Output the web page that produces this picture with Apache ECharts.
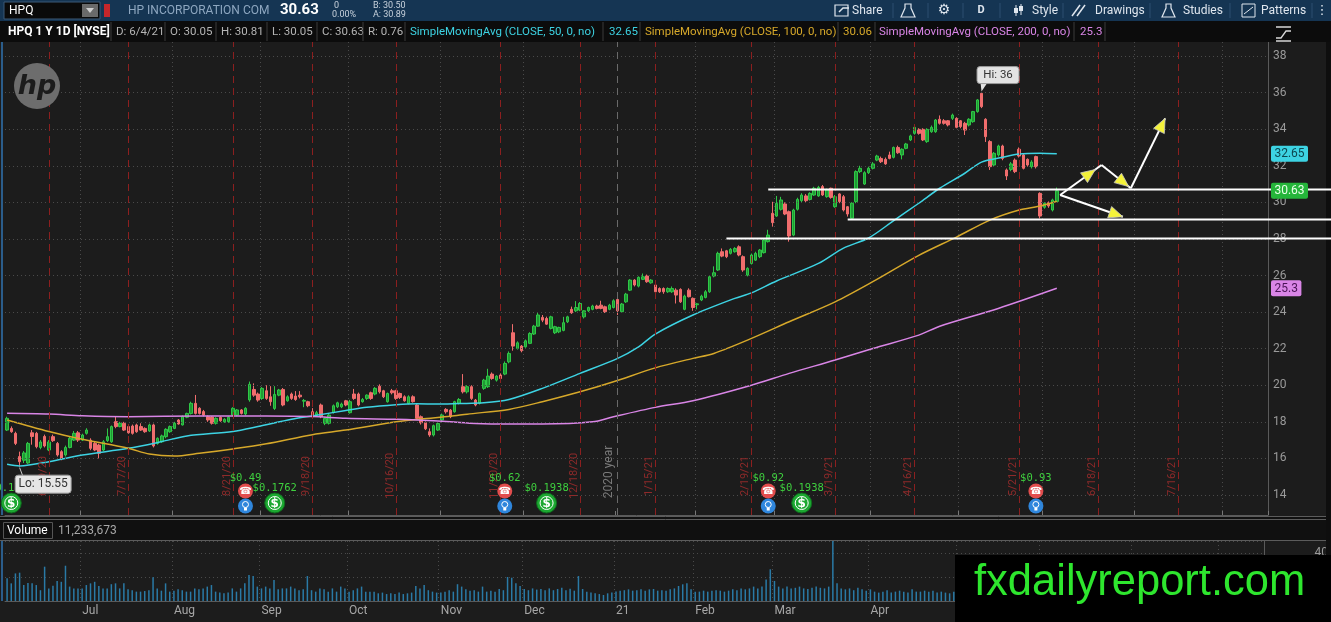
<!DOCTYPE html>
<html><head><meta charset="utf-8">
<script src="https://cdn.jsdelivr.net/npm/echarts@6/dist/echarts.min.js"></script>
<style>html,body{margin:0;padding:0;background:#1c1c1c;overflow:hidden}#chart{width:1331px;height:622px}</style>
</head><body><div id="chart"></div>
<script>
// ---------------- DATA ----------------
// daily candles [open, close, low, high], 6/5/20 .. 6/4/21
const candles = [
[17.55,18.19,17.5,18.28],[17.64,17.46,17.4,17.75],[17.37,16.82,16.73,17.46],[16.10,15.82,15.55,16.37],[15.9,16.3,15.75,16.4],
[15.75,16.82,15.7,16.9],[17.4,17.2,16.75,17.55],[17.37,16.64,16.55,17.45],[16.6,16.9,16.5,17.0],[17.2,16.68,16.6,17.3],
[16.46,16.9,16.4,17.0],[17.19,16.97,16.9,17.3],[16.82,16.19,16.1,16.9],[16.37,16.0,15.9,16.45],[16.19,16.6,16.1,16.7],
[16.6,17.1,16.55,17.2],[17.0,17.37,16.95,17.5],[17.4,17.0,16.9,17.5],[17.0,17.28,16.95,17.35],[17.37,17.55,17.3,17.65],
[17.0,16.55,16.45,17.1],[16.82,16.46,16.4,16.9],[16.73,16.28,16.0,16.8],[16.46,16.91,16.4,17.0],[16.97,17.19,16.9,17.64],
[16.91,17.74,16.85,17.8],[18.01,17.74,17.65,18.28],[17.74,17.92,17.7,18.0],[17.92,17.55,17.5,18.0],[17.74,17.4,17.35,17.8],
[17.77,17.37,17.3,17.85],[17.83,17.46,17.4,17.9],[17.74,17.55,17.5,17.92],[17.64,17.46,17.4,17.7],[17.5,17.83,17.45,17.9],
[17.83,16.68,16.6,17.9],[16.82,17.1,16.75,17.15],[16.91,17.23,16.85,17.3],[17.19,17.59,17.1,17.65],[17.46,17.74,17.4,17.8],
[17.64,17.92,17.6,18.0],[18.1,17.88,17.85,18.15],[17.83,18.28,17.8,18.35],[18.25,18.46,18.2,18.5],[18.46,19.01,18.4,19.1],
[19.01,18.46,18.4,19.47],[18.74,18.46,18.4,18.8],[18.56,18.37,18.3,18.65],[18.28,18.1,18.0,18.35],[18.26,17.92,17.85,18.3],
[17.92,18.19,17.85,18.25],[18.25,18.06,18.0,18.3],[18.0,18.14,17.95,18.2],[18.01,18.25,17.95,18.3],[18.37,18.74,18.3,18.8],
[18.37,18.65,18.3,18.7],[18.65,18.46,18.4,18.7],[18.43,18.74,18.35,18.8],
[19.2,20.05,19.1,20.2],[19.77,19.46,19.37,20.1],[19.52,19.19,19.1,19.6],[19.28,19.83,19.2,19.9],[19.7,19.28,19.2,20.0],
[19.37,19.1,18.88,19.95],[18.73,19.5,18.65,19.95],[19.46,19.74,19.4,19.8],[19.77,18.92,18.85,19.85],[19.15,19.37,19.1,19.45],
[19.52,19.28,19.2,19.6],[19.41,19.22,19.15,19.68],[19.46,19.37,19.28,19.68],[19.13,19.17,18.8,19.25],[19.1,18.88,18.8,19.15],
[18.55,18.28,18.2,18.75],[18.37,18.5,18.3,18.6],[18.92,18.28,18.2,19.0],[17.92,18.19,17.82,18.25],[17.92,18.37,17.85,18.45],
[18.51,18.88,18.45,18.95],[18.82,19.04,18.75,19.1],[18.82,18.97,18.75,19.05],[19.15,18.92,18.85,19.2],[18.5,19.1,18.45,19.2],
[19.52,19.28,19.2,19.8],[19.52,18.92,18.85,19.6],[19.1,19.22,19.05,19.3],[19.28,19.46,19.2,19.5],[19.59,19.28,19.2,19.65],
[19.52,19.83,19.45,19.9],[19.95,19.64,19.55,20.05],[19.7,19.37,19.3,19.75],[19.1,19.55,19.05,19.6],[19.7,19.59,19.5,19.8],
[19.7,19.28,19.2,19.75],[19.55,19.33,19.25,19.6],[19.37,19.15,19.1,19.45],[19.01,19.37,18.95,19.45],[19.37,19.1,19.05,19.45],
[18.92,18.19,18.1,19.0],[18.28,17.95,17.85,18.35],[17.95,17.62,17.55,18.02],
[17.46,17.28,17.18,17.64],[17.28,17.79,17.2,17.85],[17.55,17.91,17.5,17.95],[18.1,18.37,18.0,18.45],[18.68,18.55,18.45,18.75],
[18.64,18.28,18.2,18.7],[18.55,19.1,18.5,19.15],[19.01,19.22,18.95,19.3],[19.92,19.64,19.55,20.61],[19.64,19.92,19.55,20.0],
[19.92,19.28,19.2,20.0],[19.19,18.92,18.85,19.25],[19.01,19.55,18.95,19.6],[19.83,20.28,19.75,20.35],[19.92,20.5,19.85,20.9],
[20.61,20.37,20.3,20.7],[20.28,20.5,20.2,20.55],[20.56,20.37,20.3,20.65],[20.61,21.19,20.55,21.3],[21.28,21.74,21.2,21.85],
[22.87,22.14,21.89,23.34],[22.01,22.32,21.95,22.4],[22.14,21.89,21.8,22.2],[22.1,22.43,22.05,22.5],[22.29,22.83,22.25,22.9],
[22.8,23.23,22.75,23.3],[23.23,23.84,23.2,24.0],[23.71,23.56,23.45,23.84],[23.65,23.34,23.3,23.75],[23.11,23.74,23.05,23.8],
[22.87,23.2,22.8,23.25],[22.92,23.16,22.85,23.2],[23.0,23.42,22.95,23.74],[23.47,23.74,23.4,23.8],[24.15,23.96,23.9,24.3],
[24.07,24.25,24.0,24.6],[24.11,24.47,24.05,24.55],[23.74,24.07,23.65,24.1],[24.07,24.25,24.0,24.3],[24.15,24.33,24.1,24.4],
[24.33,24.2,24.15,24.4],[24.38,24.2,24.15,24.62],[24.29,24.02,23.95,24.35],[24.15,24.38,24.1,24.45],[24.25,24.62,24.2,24.7],
[24.69,24.07,23.84,24.87],[24.02,24.44,23.95,24.5],[24.56,24.98,24.5,25.05],[25.2,25.75,25.15,25.8],[25.75,25.48,25.4,25.8],
[25.42,25.9,25.35,25.95],[25.79,25.93,25.75,26.11],[25.97,25.66,25.6,26.05],[25.6,25.75,25.55,25.8],[25.48,25.11,25.05,25.55],
[25.29,25.11,25.05,25.35],[25.29,25.11,25.0,25.35],[25.11,25.29,25.05,25.35],[25.11,25.29,25.05,25.4],[25.2,24.93,24.47,25.3],
[25.24,24.56,24.5,25.3],[24.15,24.87,24.1,24.95],[25.2,24.84,24.8,25.3],[24.75,24.25,24.07,24.8],[24.4,24.45,24.15,24.5],
[24.66,24.87,24.6,24.95],[24.8,25.11,24.75,25.2],[25.11,25.93,25.05,26.0],[25.97,26.15,25.9,26.5],[26.3,27.21,26.25,27.3],
[27.3,27.06,27.0,27.48],[27.35,27.03,26.95,27.4],[27.21,27.43,27.15,27.5],[27.3,27.48,27.25,27.55],[27.57,27.12,27.05,27.65],
[27.03,26.3,26.2,27.1],[26.02,26.39,25.95,26.45],[26.66,27.12,26.6,27.2],[26.84,27.21,26.8,27.3],
[27.03,27.39,26.95,27.45],[27.25,27.94,27.2,28.0],[27.85,28.21,27.8,28.5],[29.4,28.89,28.67,30.03],[29.25,29.94,29.2,30.35],
[29.62,30.13,29.55,30.3],[29.91,29.36,29.3,30.0],[29.49,28.16,27.85,29.55],[28.21,29.58,28.15,29.65],[29.62,30.16,29.55,30.25],
[30.09,30.4,30.0,30.5],[30.35,30.09,30.0,30.45],[30.16,30.49,30.1,30.55],[30.4,30.77,30.35,30.85],[30.35,30.82,30.3,30.9],
[30.86,30.4,30.35,30.95],[30.31,30.68,30.25,30.75],[30.77,30.27,30.2,30.8],[29.76,30.31,29.7,30.4],[30.46,30.04,29.95,30.5],
[30.31,29.58,29.5,30.4],[29.76,29.36,29.22,29.8],[29.13,29.95,29.1,30.0],[30.04,31.68,29.95,31.75],[31.68,31.86,31.6,32.0],
[31.0,31.62,30.95,31.7],[31.62,31.86,31.55,31.95],[31.86,32.1,31.8,32.2],[32.31,32.53,32.25,32.6],[32.4,32.22,32.15,32.5],
[32.35,32.1,32.05,32.45],[32.59,32.4,32.35,32.77],[32.46,33.0,32.4,33.05],[33.0,32.71,32.65,33.1],[32.59,32.9,32.35,32.95],
[32.95,33.19,32.9,33.25],[33.41,33.63,33.35,33.7],[33.77,34.1,33.7,34.2],[33.99,33.77,33.7,34.05],[33.99,33.41,33.35,34.05],
[33.32,33.99,33.25,34.05],[33.86,34.1,33.8,34.2],[33.86,34.5,33.8,34.55],[34.54,34.32,34.25,34.75],[34.46,34.32,34.25,34.55],
[34.46,34.23,34.15,34.5],[34.59,34.77,34.5,34.85],[34.59,34.1,34.05,34.65],[34.46,34.14,34.05,34.5],[34.32,33.95,33.68,34.4],
[34.23,34.54,34.15,34.6],[34.41,34.96,34.35,35.0],[34.96,35.6,34.9,35.65],[35.96,35.23,35.15,36.0],[34.54,33.59,33.3,34.6],
[33.32,31.95,31.77,33.4],[32.04,32.68,31.95,32.75],[32.59,33.08,32.5,33.15],[33.08,32.4,32.3,33.15],[31.77,31.44,31.22,31.85],
[31.8,32.1,31.7,32.2],[32.31,31.68,31.6,32.4],[32.9,32.53,32.45,33.0],[32.59,31.86,31.8,32.65],[32.35,32.04,31.95,32.4],
[31.95,32.2,31.85,32.3],[32.5,31.95,31.85,32.55],[30.49,29.25,29.12,30.55],[29.73,29.95,29.65,30.0],[29.98,29.8,29.7,30.05],
[29.58,30.13,29.5,30.2],[30.05,30.63,30.05,30.81]
];
// daily volume, millions
const volumes = [
19,14.7,23,23.6,13.3,15,14.7,13.3,9,28.6,10.5,12.8,16.7,16,29.4,12,10.5,10.5,
10.5,13.3,14.7,16,12.5,10.5,10.5,14,14.7,10.5,14.7,9.7,9,7.8,7.8,8.3,9,19.7,10.5,8.6,14.7,7.8,
8.6,9.7,9,7.8,7.8,10.5,9.7,10.5,12,13.3,7.8,7,6.4,7,10.5,7.8,10.5,14.7,21.7,20.8,12,
10.5,12,10.5,17.5,9.7,10.5,10.5,12,10.5,9,9.7,20.8,9,7.8,10.5,9.7,7.8,10.5,7.8,12,10.5,
7.8,9,10.5,12,7.8,7.8,7.8,6.4,7,5.8,6.4,5.8,7,5.8,6.4,7,12.5,10.5,13.3,9,7.8,7,
7,7.8,9,7.8,14,12,9.7,8.6,9,7.8,12,7.8,8.6,7.8,10,9,20,19.4,14.7,12.5,
10,9,10.5,9.5,10,9,10.5,9,10,11,9,10.3,8.6,20.8,10,7.8,7,6.4,5.8,5,6.4,7,
8,8.6,9,9.7,8.6,9,9.7,8.6,9.7,10,8.6,9,8.6,9.7,10.5,12.5,13.9,14.7,9.7,
7.8,7.8,8.6,7.8,8.6,9,8.6,7.8,8.6,9.7,9,10.5,9.7,10.5,12,10.5,12,18,26.4,
16.7,12,10.5,12,10.5,11,12,10.5,10,11,12,11,10.5,12,50,14.7,10.5,9.7,10.5,9,11,9.7,8.6,
9.7,7.8,7,7.8,9,7,7.8,8.6,7.8,7,9.7,7.8,7.8,8.6,7.8,8.6,7,7.8,7,6.4,7.8,
9,10,11,10,12,14,16,20,17,13,12,14,11,10,9,10,9,9,12,25,
14,10,9,11.233673
];
// simple moving averages: [bar index, value]
const sma50 = [[0,15.68],[3,15.59],[10,15.82],[18,16.19],[29,16.55],[37,16.92],[43,17.23],[54,17.47],[60,17.74],[68,18.14],[74,18.36],[81,18.62],[86,18.8],[93,18.94],[98,18.99],[103,18.97],[108,19.0],[114,19.04],[120,19.22],[128,19.83],[137,20.65],[146,21.47],[151,22.1],[155,22.8],[164,23.84],[174,24.75],[178,25.05],[184,25.7],[194,26.66],[200,27.5],[206,28.05],[212,29.0],[218,29.95],[223,30.77],[229,31.59],[233,32.2],[238,32.46],[242,32.64],[247,32.68],[251,32.65]];
const sma100 = [[0,18.1],[10,17.47],[18,17.05],[29,16.55],[34,16.24],[40,16.13],[46,16.28],[54,16.52],[62,16.8],[73,17.3],[81,17.55],[93,18.0],[99,18.16],[106,18.3],[110,18.42],[120,18.68],[128,19.1],[137,19.64],[145,20.19],[155,20.95],[164,21.47],[169,21.74],[178,22.56],[187,23.47],[198,24.56],[207,25.66],[218,27.1],[227,28.1],[235,29.03],[242,29.58],[247,29.8],[251,30.06]];
const sma200 = [[0,18.47],[10,18.43],[18,18.33],[29,18.28],[46,18.32],[62,18.32],[73,18.29],[81,18.19],[93,18.14],[98,18.1],[106,18.0],[112,17.91],[120,17.88],[128,17.88],[140,18.0],[145,18.28],[155,18.79],[164,19.15],[178,20.0],[187,20.65],[198,21.38],[207,22.01],[218,22.74],[223,23.23],[237,24.2],[251,25.3]];
const priceTicks = [14,16,18,20,22,24,26,28,30,32,34,36,38];
const monthNames = ['Jan','Feb','Mar','Apr','May','Jun','Jul','Aug','Sep','Oct','Nov','Dec'];
const holidays = ['2020-07-03','2020-09-07','2020-11-26','2020-12-25','2021-01-01','2021-01-18','2021-02-15','2021-04-02','2021-05-31','2021-07-05'];
const opexDates = ['2020-06-19','2020-07-17','2020-08-21','2020-09-18','2020-10-16','2020-11-20','2020-12-18','2021-01-15','2021-02-19','2021-03-19','2021-04-16','2021-05-21','2021-06-18','2021-07-16'];
const yearDate = '2021-01-04';
const earningsIdx = [57,119,182,246];
const earningsEPS = ['$0.49','$0.62','$0.92','$0.93'];
const dividendIdx = [1,64,129,190];
const dividendAmt = ['$0.1762','$0.1762','$0.1938','$0.1938'];
const hLines = [[172,28.05],[182,30.73],[201,29.09]];       // [start bar, price]
const arrowSegs = [[[251.8,30.4],[261.7,32.04],0.85],[[261.7,32.04],[268.7,30.77],0.93],[[268.7,30.77],[276.9,34.59],1],[[251.8,30.4],[266.8,29.21],1]];
const slots = 302;

// ---------------- HELPERS ----------------
const hol = new Set(holidays);
const dates = [];
(function(){const d=new Date(Date.UTC(2020,5,5));while(dates.length<slots){const wd=d.getUTCDay();const iso=d.toISOString().slice(0,10);if(wd!==0&&wd!==6&&!hol.has(iso))dates.push(iso);d.setUTCDate(d.getUTCDate()+1);}})();
const yearIdx = dates.indexOf(yearDate);
const isMonthStart = i => i>0 && dates[i].slice(0,7)!==dates[i-1].slice(0,7);
const mdY = s => (+s.slice(5,7))+'/'+(+s.slice(8,10))+'/'+s.slice(2,4);
const C_UP='#2fc847', C_DN='#f06d6d', C50='#3dd3e3', C100='#d6a82a', C200='#d985e6';
const FONT='Roboto';

const chart = echarts.init(document.getElementById('chart'), null, {renderer:'canvas'});
const option = {
  backgroundColor:'#1c1c1c', animation:false, textStyle:{fontFamily:FONT},
  grid:[{left:5,right:63,top:42,height:473},{left:5,right:63,top:541,height:60}],
  xAxis:[
    {type:'category',gridIndex:0,data:dates,boundaryGap:true,
     axisLine:{show:true,lineStyle:{color:'#5a5a5a'}},
     axisTick:{show:true,inside:true,length:4,interval:i=>isMonthStart(i),lineStyle:{color:'#777'}},
     axisLabel:{show:false},
     splitLine:{show:true,interval:i=>isMonthStart(i)&&i!==yearIdx,lineStyle:{color:'#4a4a4a',type:[1,3]}}},
    {type:'category',gridIndex:1,data:dates,boundaryGap:true,
     axisLine:{show:true,lineStyle:{color:'#5a5a5a'}},axisTick:{show:false},
     axisLabel:{show:true,interval:i=>isMonthStart(i),align:'left',margin:4,color:'#a6a6a6',fontSize:12,fontFamily:FONT,
       formatter:v=>{const m=+v.slice(5,7);return m===1?v.slice(2,4):monthNames[m-1];}},
     splitLine:{show:true,interval:i=>isMonthStart(i),lineStyle:{color:'#4a4a4a',type:[1,3]}}}
  ],
  yAxis:[
    {type:'value',gridIndex:0,position:'right',min:12.9066,max:38.7654,axisLine:{show:true,lineStyle:{color:'#5a5a5a'}},axisTick:{show:false},axisLabel:{show:false},splitLine:{show:false}},
    {type:'value',gridIndex:1,position:'right',min:0,max:50,interval:20,axisLine:{show:true,lineStyle:{color:'#5a5a5a'}},axisTick:{show:false},
     axisLabel:{show:true,margin:50,color:'#9a9a9a',fontSize:12,formatter:v=>v===40?'40':''},splitLine:{show:true,lineStyle:{color:'#4a4a4a',type:[1,3]}}}
  ],
  series:[
    {type:'line',name:'grid',xAxisIndex:0,yAxisIndex:0,data:[],z:1,silent:true,
     markLine:{silent:true,symbol:['none','none'],animation:false,lineStyle:{color:'#4a4a4a',type:[1,3],width:1},
       label:{show:true,position:'end',formatter:p=>String(p.value),color:'#9a9a9a',fontSize:12,fontFamily:FONT,distance:5},
       data:priceTicks.map(v=>({yAxis:v}))}},
    {type:'line',name:'events',xAxisIndex:0,yAxisIndex:0,data:[],z:1,silent:true,
     markLine:{silent:true,symbol:['none','none'],animation:false,label:{show:false},
       data:opexDates.map(d=>({xAxis:d,lineStyle:{color:'#8c1f1f',type:[7,5],width:1}})).concat([{xAxis:yearDate,lineStyle:{color:'#6a6a6a',type:[7,5],width:1}}])}},
    {type:'candlestick',name:'HPQ',xAxisIndex:0,yAxisIndex:0,data:candles,barWidth:3,z:3,
     itemStyle:{color:'#1f9a33',color0:C_DN,borderColor:C_UP,borderColor0:C_DN,borderWidth:1}},
    {type:'line',name:'SMA50',xAxisIndex:0,yAxisIndex:0,data:sma50,showSymbol:false,smooth:0.3,z:4,lineStyle:{color:C50,width:1.5}},
    {type:'line',name:'SMA100',xAxisIndex:0,yAxisIndex:0,data:sma100,showSymbol:false,smooth:0.3,z:4,lineStyle:{color:C100,width:1.5}},
    {type:'line',name:'SMA200',xAxisIndex:0,yAxisIndex:0,data:sma200,showSymbol:false,smooth:0.3,z:4,lineStyle:{color:C200,width:1.5}},
    {type:'bar',name:'Volume',xAxisIndex:1,yAxisIndex:1,data:volumes,barWidth:1.5,itemStyle:{color:'#2a7aa6'}}
  ]
};
chart.setOption(option);

function xAt(f){const a=Math.floor(f);const p0=chart.convertToPixel({xAxisIndex:0},a);const p1=chart.convertToPixel({xAxisIndex:0},a+1);return p0+(p1-p0)*(f-a);}
function yAt(v){return chart.convertToPixel({yAxisIndex:0},v);}
function T(x,y,text,fill,size,opt){opt=opt||{};return {type:'text',x:x,y:y,rotation:opt.rot||0,z:opt.z||50,silent:true,
  style:{text:text,fill:fill,fontSize:size,fontFamily:opt.family||FONT,fontWeight:opt.weight||'normal',fontStyle:opt.style||'normal',
  textAlign:opt.align||'left',align:opt.align||'left',textVerticalAlign:'middle',verticalAlign:'middle'}};}
function R(x,y,w,h,fill,opt){opt=opt||{};return {type:'rect',z:opt.z||40,silent:true,shape:{x:x,y:y,width:w,height:h,r:opt.r||0},style:{fill:fill,stroke:opt.stroke||null,lineWidth:opt.lw||1}};}
function L(x1,y1,x2,y2,stroke,w,z,dash){return {type:'line',z:z||40,silent:true,shape:{x1:x1,y1:y1,x2:x2,y2:y2},style:{stroke:stroke,lineWidth:w||1,lineDash:dash||null}};}
function Ci(cx,cy,r,fill,z,stroke){return {type:'circle',z:z||45,silent:true,shape:{cx:cx,cy:cy,r:r},style:{fill:fill,stroke:stroke||null,lineWidth:1}};}

const els = [];
// ---- top toolbar ----
els.push(R(0,0,1331,21,'#153553',{z:60}));
els.push(R(4,2,96,17,'#0a0a0a',{z:61,stroke:'#3a5877'}));
els.push(T(9,10.5,'HPQ','#ffffff',12,{z:62}));
els.push(R(82,4,16,13,'#6a6a6a',{z:62}));
els.push({type:'polygon',z:63,silent:true,shape:{points:[[86,8],[94,8],[90,13]]},style:{fill:'#cfcfcf'}});
els.push(R(104,4,6,13,'#c4262b',{z:62}));
els.push(T(128,10.5,'HP INCORPORATION COM','#8ea7c0',12,{z:62}));
const last = candles[candles.length-1];
els.push(T(280,10.5,last[1].toFixed(2),'#ffffff',15,{z:62,weight:'bold'}));
els.push(T(334,6,'0','#c8d2dc',9,{z:62}));
els.push(T(332,15,'0.00%','#c8d2dc',9,{z:62}));
els.push(T(373,6,'B: 30.50','#c8d2dc',9,{z:62}));
els.push(T(373,15,'A: 30.89','#c8d2dc',9,{z:62}));
[893,928,963,1000,1063,1150,1230,1312].forEach(x=>els.push(L(x,3,x,18,'#2c4e70',1,62)));
els.push(R(835,5,13,11,null,{z:62,stroke:'#dfe6ee',lw:1.2}));
els.push({type:'polyline',z:63,silent:true,shape:{points:[[839,12],[843,8],[849,8]]},style:{stroke:'#dfe6ee',lineWidth:1.5,fill:null}});
els.push(T(852,10.5,'Share','#dfe6ee',12,{z:62}));
els.push({type:'polygon',z:62,silent:true,shape:{points:[[905,4],[911,4],[911,8],[915,17],[901,17],[905,8]]},style:{fill:null,stroke:'#dfe6ee',lineWidth:1.2}});
els.push(T(944,10.5,'\u2699','#dfe6ee',14,{z:62,align:'center',family:'DejaVu Sans'}));
els.push(T(981,10.5,'D','#dfe6ee',11,{z:62,align:'center',weight:'bold'}));
els.push(L(1016,5,1016,16,'#dfe6ee',1,62));els.push(R(1014,8,4,5,'#dfe6ee',{z:62}));els.push(L(1021,4,1021,15,'#dfe6ee',1,62));els.push(R(1019,6,4,5,'#dfe6ee',{z:62}));
els.push(T(1032,10.5,'Style','#dfe6ee',12,{z:62}));
els.push(L(1072,16,1080,5,'#dfe6ee',1.5,62));els.push(L(1077,16,1085,5,'#dfe6ee',1.5,62));
els.push(T(1095,10.5,'Drawings','#dfe6ee',12,{z:62}));
els.push({type:'polygon',z:62,silent:true,shape:{points:[[1166,4],[1171,4],[1171,8],[1175,17],[1162,17],[1166,8]]},style:{fill:null,stroke:'#dfe6ee',lineWidth:1.2}});
els.push(T(1183,10.5,'Studies','#dfe6ee',12,{z:62}));
els.push(R(1242,4,13,13,null,{z:62,stroke:'#dfe6ee',lw:1}));els.push(L(1244,14,1253,7,'#dfe6ee',1,62));
els.push(T(1261,10.5,'Patterns','#dfe6ee',12,{z:62}));
els.push(T(1322,10.5,'\u22EE','#dfe6ee',13,{z:62,align:'center',family:'DejaVu Sans'}));
// ---- study header strip ----
els.push(R(0,21,1331,21,'#0c0c0c',{z:60}));
const lastDate = dates[candles.length-1];
const hdr = [
  [8,'HPQ 1 Y 1D [NYSE]','#ffffff','bold'],
  [116,'D: '+mdY(lastDate),'#b5b5b5'],[170,'O: '+last[0].toFixed(2),'#b5b5b5'],[221,'H: '+last[3].toFixed(2),'#b5b5b5'],
  [272,'L: '+last[2].toFixed(2),'#b5b5b5'],[322,'C: '+last[1].toFixed(2),'#b5b5b5'],[368,'R: '+(last[3]-last[2]).toFixed(2),'#b5b5b5'],
  [410,'SimpleMovingAvg (CLOSE, 50, 0, no)',C50],[609,String(sma50[sma50.length-1][1]),C50],
  [645,'SimpleMovingAvg (CLOSE, 100, 0, no)',C100],[843,String(sma100[sma100.length-1][1].toFixed(2)),C100],
  [879,'SimpleMovingAvg (CLOSE, 200, 0, no)',C200],[1080,String(sma200[sma200.length-1][1]),C200]
];
hdr.forEach(h=>els.push(T(h[0],32,h[1],h[2],h[3]?12:11.5,{z:62,weight:h[3]||'normal'})));
[111,165,216,267,317,363,405,603,640,838,875,1074,1105].forEach(x=>els.push(L(x,22,x,41,'#3a3a3a',1,62)));
els.push(L(1276,27,1291,27,'#d8d8d8',1.5,62));
els.push({type:'polyline',z:62,silent:true,shape:{points:[[1276,38],[1281,38],[1286,31],[1291,31]]},style:{stroke:'#d8d8d8',lineWidth:1.3,fill:null}});
els.push(L(1276,41,1291,41,'#d8d8d8',1.5,62));
// left edge accent
els.push(R(1,42,2,473,'#2b5d8b',{z:45}));
els.push(R(1,541,2,60,'#2b5d8b',{z:45}));
els.push(R(1326,42,5,560,'#0e0e0e',{z:44}));
// HP logo
els.push(Ci(37,86,23,'#6d6d6d',20));
els.push(T(37,87,'hp','#1c1c1c',27,{z:21,align:'center',weight:'bold',style:'italic',family:'DejaVu Sans'}));
// ---- panel separator & volume header ----
els.push(R(0,516,1331,25,'#101010',{z:42}));
els.push(L(0,516.5,1331,516.5,'#5c5c5c',1,43));
els.push(L(0,519.5,1331,519.5,'#5c5c5c',1,43));
els.push(L(0,540.5,1331,540.5,'#5c5c5c',1,43));
els.push(R(3.5,522.5,49,16,null,{z:43,stroke:'#555',lw:1}));
els.push(T(7,530.5,'Volume','#ffffff',12,{z:44}));
els.push(T(58,530.5,Math.round(volumes[volumes.length-1]*1e6).toLocaleString('en-US'),'#a8a8a8',12,{z:44}));
// ---- option-expiration labels and year label ----
opexDates.forEach(d=>{const x=xAt(dates.indexOf(d));els.push(T(x-6,476,mdY(d),'#8e2a2a',11,{rot:Math.PI/2,align:'center',z:30}));});
els.push(T(xAt(yearIdx)-9,472,'2020 year','#7a7a7a',12,{rot:Math.PI/2,align:'center',z:30}));
// ---- earnings and dividend markers ----
earningsIdx.forEach((idx,k)=>{const x=xAt(idx);
  els.push(T(x,478,earningsEPS[k],'#3fd03f',10.5,{align:'center',family:'DejaVu Sans Mono',z:50}));
  els.push(Ci(x,491,7.5,'#e24d4d',51));
  els.push(T(x,491.5,'\u260E','#ffffff',10,{align:'center',family:'DejaVu Sans',z:52}));
  els.push(Ci(x,506,7.5,'#2f86dc',51));
  els.push(Ci(x,504.5,3,null,52,'#ffffff'));
  els.push(R(x-1.5,507.5,3,3,'#ffffff',{z:52}));
});
dividendIdx.forEach((idx,k)=>{const x=xAt(idx);
  els.push(T(x,488,dividendAmt[k],'#3fd03f',10.5,{align:'center',family:'DejaVu Sans Mono',z:50}));
  els.push(Ci(x,503,10,'#1ca831',51,'#0e6d1d'));
  els.push(Ci(x,503,6.5,null,52,'#ffffff'));
  els.push(T(x,503.5,'$','#ffffff',12,{align:'center',weight:'bold',family:'DejaVu Sans',z:53}));
});
// ---- Hi / Lo bubbles ----
let hiI=0,loI=0;candles.forEach((c,i)=>{if(c[3]>candles[hiI][3])hiI=i;if(c[2]<candles[loI][2])loI=i;});
(function(){const x=xAt(hiI),y=yAt(candles[hiI][3]);
  els.push({type:'polygon',z:70,silent:true,shape:{points:[[x-1,y-10],[x+6,y-10],[x,y-1]]},style:{fill:'#e3e3e3'}});
  els.push(R(x-4.5,y-26,42,17,'#e3e3e3',{z:70,r:3,stroke:'#9a9a9a'}));
  els.push(T(x+16.5,y-17.5,'Hi: '+parseFloat(candles[hiI][3].toFixed(2)),'#333333',11.5,{align:'center',z:71}));
})();
(function(){const x=xAt(loI),y=yAt(candles[loI][2]);
  els.push(L(x,y+1,x+3,y+9,'#cfcfcf',1,70));
  els.push(R(x-4.5,y+8.5,56,18,'#e6e6e6',{z:70,r:3,stroke:'#9a9a9a'}));
  els.push(T(x+23.5,y+17.5,'Lo: '+parseFloat(candles[loI][2].toFixed(2)),'#333333',12,{align:'center',z:71}));
})();
// ---- value tags on the price scale ----
[[sma50[sma50.length-1][1],C50,'#0d4750'],[last[1],'#25b53a','#e8ffe8'],[sma200[sma200.length-1][1],C200,'#4a1456']].forEach(t=>{
  const y=yAt(t[0]);const s=String(t[0]);const w=s.length*6.6+4;
  els.push(R(1271,y-8,w,16,t[1],{z:80,r:2}));
  els.push(T(1271+w/2,y+0.5,s,t[2],12,{align:'center',z:81}));
});
// ---- drawings: horizontal levels and arrows ----
hLines.forEach(h=>{const y=Math.round(yAt(h[1]))+0.5;els.push(L(xAt(h[0]),y,1331,y,'#ffffff',2,75));});
arrowSegs.forEach(s=>{
  const x0=xAt(s[0][0]),y0=yAt(s[0][1]),x1=xAt(s[1][0]),y1=yAt(s[1][1]);
  els.push(L(x0,y0,x1,y1,'#ffffff',2,76));
  const tx=x0+(x1-x0)*s[2],ty=y0+(y1-y0)*s[2];const len=Math.hypot(x1-x0,y1-y0);const ux=(x1-x0)/len,uy=(y1-y0)/len;
  const bx=tx-14*ux,by=ty-14*uy,nx=-uy,ny=ux;
  els.push({type:'polygon',z:77,silent:true,shape:{points:[[tx,ty],[bx+6*nx,by+6*ny],[bx-6*nx,by-6*ny]]},style:{fill:'#f4f23a',stroke:'#c8c8c8',lineWidth:0.8}});
});
// ---- watermark ----
els.push(R(955,555,376,67,'#000000',{z:90}));
els.push(T(974,583,'fxdailyreport.com','#2ee62e',43.5,{z:91,family:'Liberation Sans'}));
chart.setOption({graphic:{elements:els}});
</script></body></html>
